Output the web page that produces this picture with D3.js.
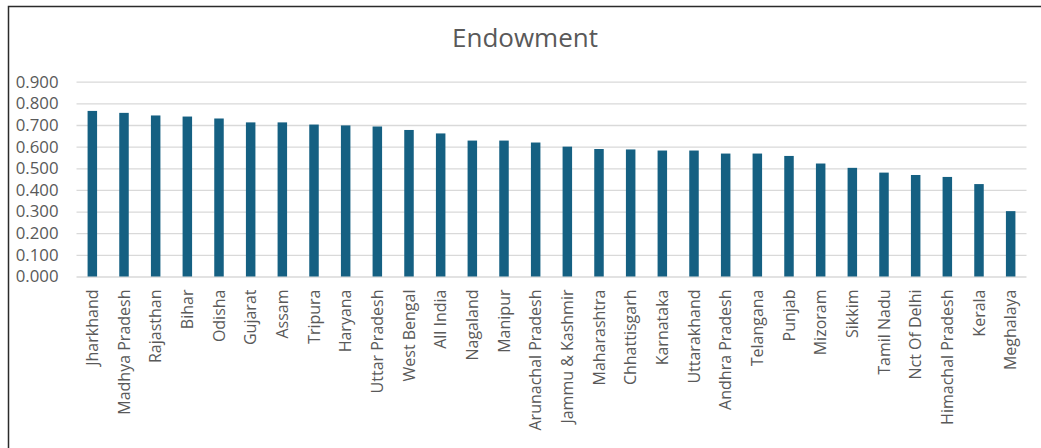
<!DOCTYPE html>
<html>
<head>
<meta charset="utf-8">
<script src="https://cdn.jsdelivr.net/npm/d3@7"></script>
<style>
  html, body { margin: 0; padding: 0; background: #fff; }
  svg { display: block; }
  text { font-family: "Open Sans", "Liberation Sans", sans-serif; }
</style>
</head>
<body>
<svg id="chart" width="1041" height="448"></svg>
<script>
const title = "Endowment";
const categories = ["Jharkhand","Madhya Pradesh","Rajasthan","Bihar","Odisha","Gujarat","Assam","Tripura","Haryana","Uttar Pradesh","West Bengal","All India","Nagaland","Manipur","Arunachal Pradesh","Jammu & Kashmir","Maharashtra","Chhattisgarh","Karnataka","Uttarakhand","Andhra Pradesh","Telangana","Punjab","Mizoram","Sikkim","Tamil Nadu","Nct Of Delhi","Himachal Pradesh","Kerala","Meghalaya"];
const values = [0.765,0.756,0.744,0.739,0.730,0.712,0.712,0.702,0.698,0.693,0.677,0.661,0.628,0.628,0.619,0.600,0.589,0.587,0.582,0.582,0.568,0.568,0.557,0.522,0.502,0.480,0.469,0.460,0.427,0.302];
const yTicks = [0,0.1,0.2,0.3,0.4,0.5,0.6,0.7,0.8,0.9];

const svg = d3.select("#chart");
const pLeft = 76.5, pRight = 1026.5, pTop = 81.7, pBottom = 276.5;

const x = d3.scaleBand().domain(categories).range([pLeft, pRight]).paddingInner(0.70).paddingOuter(0.35);
const y = d3.scaleLinear().domain([0, 0.9]).range([pBottom, pTop]);

// frame
svg.append("path").attr("d", "M8.5,448V6.5H1041").attr("fill", "none")
  .attr("stroke", "#2b2b2b").attr("stroke-width", 1.5);

// title
svg.append("text").attr("x", 525).attr("y", 47).attr("text-anchor", "middle")
  .attr("font-size", 26).attr("fill", "#595959").text(title);

// gridlines + y labels
const yAxis = svg.append("g").attr("transform", `translate(${pLeft},0)`)
  .call(d3.axisLeft(y).tickValues(yTicks).tickFormat(d3.format(".3f")).tickSize(-(pRight - pLeft)).tickPadding(18));
yAxis.select(".domain").remove();
yAxis.selectAll(".tick line").attr("stroke", "#d9d9d9").attr("stroke-width", 1.3);
yAxis.selectAll(".tick text").attr("fill", "#595959").attr("font-size", 16.8)
  .attr("font-family", "'Open Sans', sans-serif");

// bars
svg.append("g").selectAll("rect").data(categories).join("rect")
  .attr("x", d => x(d)).attr("width", x.bandwidth())
  .attr("y", (d, i) => y(values[i])).attr("height", (d, i) => y(0) - y(values[i]))
  .attr("fill", "#156082");

// x labels
const xAxis = svg.append("g").attr("transform", `translate(0,${pBottom})`)
  .call(d3.axisBottom(x).tickSize(0));
xAxis.select(".domain").remove();
xAxis.selectAll(".tick text")
  .attr("transform", "rotate(-90)")
  .attr("x", -13).attr("y", 0).attr("dy", "0.35em")
  .attr("text-anchor", "end")
  .attr("fill", "#595959").attr("font-size", 16)
  .attr("font-family", "'Open Sans', sans-serif");
</script>
</body>
</html>
